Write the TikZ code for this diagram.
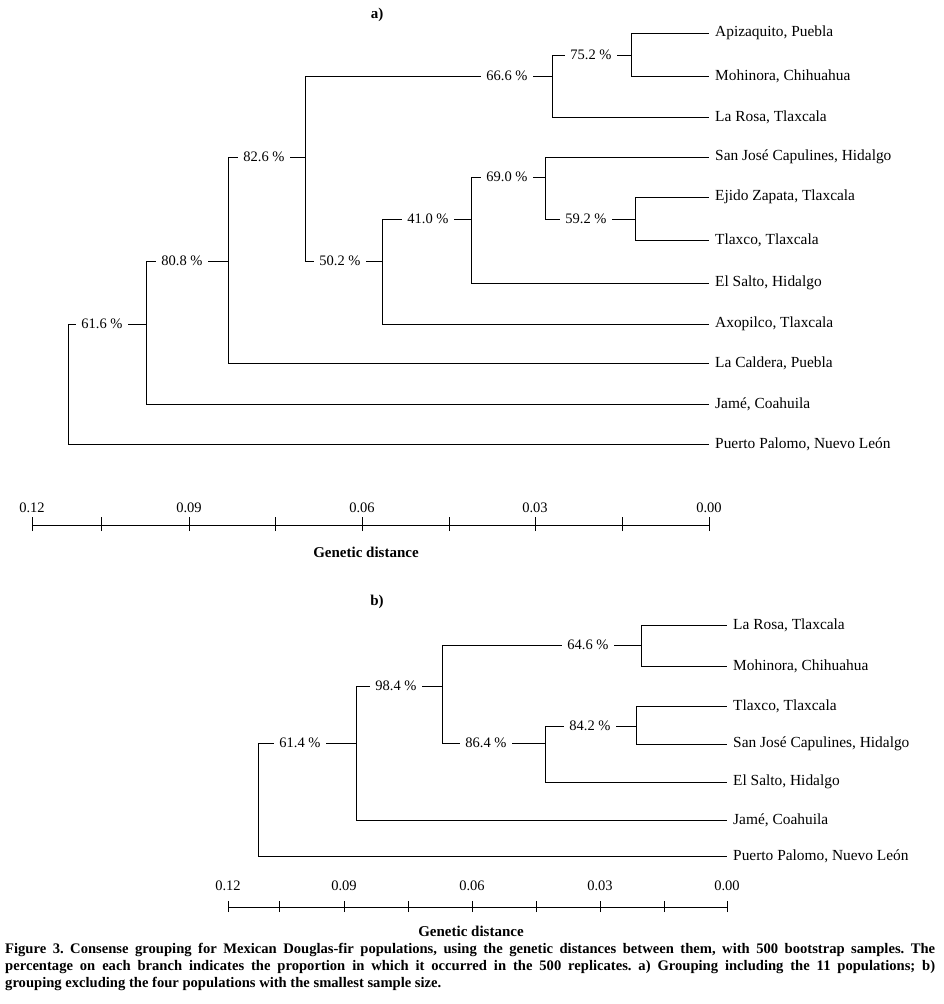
\documentclass[tikz,border=0pt]{standalone}
\usepackage{fontspec}
\setmainfont{Liberation Serif}
\usepackage{tikz}

\begin{document}
\begin{tikzpicture}[x=1pt, y=-1pt,
		edge_style/.style={draw=black, line width=1pt},
		leaf_style/.style={anchor=west, inner xsep=6pt, inner ysep=1pt, font=\fontsize{15.4}{18}\selectfont},
		pct_style/.style={fill=white, inner xsep=5pt, inner ysep=1pt, font=\fontsize{14.5}{17}\selectfont},
		scale_style/.style={font=\fontsize{14.5}{17}\selectfont, inner sep=0pt},
		title_style/.style={font=\bfseries\fontsize{15}{18}\selectfont, inner sep=0pt}]

		\useasboundingbox (0,0) rectangle (943,1004);

		% panel a
		\node[title_style] (ta) at (377,15) {a)};

		\coordinate (n1) at (68,324);
		\coordinate (n2) at (146,324);
		\coordinate (n3) at (228,261);
		\coordinate (n4) at (305,157);
		\coordinate (n5) at (552,76);
		\coordinate (n6) at (382,261);
		\coordinate (n7) at (631,55);
		\coordinate (n8) at (471,219);
		\coordinate (n9) at (545,177);
		\coordinate (n10) at (635,219);

		\node[leaf_style] (a1) at (709,33)  {Apizaquito, Puebla};
		\node[leaf_style] (a2) at (709,76)  {Mohinora, Chihuahua};
		\node[leaf_style] (a3) at (709,117) {La Rosa, Tlaxcala};
		\node[leaf_style] (a4) at (709,157) {San José Capulines, Hidalgo};
		\node[leaf_style] (a5) at (709,197) {Ejido Zapata, Tlaxcala};
		\node[leaf_style] (a6) at (709,240) {Tlaxco, Tlaxcala};
		\node[leaf_style] (a7) at (709,283) {El Salto, Hidalgo};
		\node[leaf_style] (a8) at (709,324) {Axopilco, Tlaxcala};
		\node[leaf_style] (a9) at (709,363) {La Caldera, Puebla};
		\node[leaf_style] (a10) at (709,404) {Jamé, Coahuila};
		\node[leaf_style] (a11) at (709,444) {Puerto Palomo, Nuevo León};

		\draw[edge_style] (n1) |- (n2);
		\draw[edge_style] (n1) |- (a11);
		\draw[edge_style] (n2) |- (n3);
		\draw[edge_style] (n2) |- (a10);
		\draw[edge_style] (n3) |- (n4);
		\draw[edge_style] (n3) |- (a9);
		\draw[edge_style] (n4) |- (n5);
		\draw[edge_style] (n4) |- (n6);
		\draw[edge_style] (n5) |- (n7);
		\draw[edge_style] (n5) |- (a3);
		\draw[edge_style] (n7) |- (a1);
		\draw[edge_style] (n7) |- (a2);
		\draw[edge_style] (n6) |- (n8);
		\draw[edge_style] (n6) |- (a8);
		\draw[edge_style] (n8) |- (n9);
		\draw[edge_style] (n8) |- (a7);
		\draw[edge_style] (n9) |- (a4);
		\draw[edge_style] (n9) |- (n10);
		\draw[edge_style] (n10) |- (a5);
		\draw[edge_style] (n10) |- (a6);

		\node[pct_style] (p1) at (102,324) {61.6 \%};
		\node[pct_style] (p2) at (182,261) {80.8 \%};
		\node[pct_style] (p3) at (264,157) {82.6 \%};
		\node[pct_style] (p4) at (507,76)  {66.6 \%};
		\node[pct_style] (p5) at (591,55)  {75.2 \%};
		\node[pct_style] (p6) at (340,261) {50.2 \%};
		\node[pct_style] (p7) at (428,219) {41.0 \%};
		\node[pct_style] (p8) at (507,177) {69.0 \%};
		\node[pct_style] (p9) at (586,219) {59.2 \%};

		% scale a
		\coordinate (sa1) at (32,525);
		\coordinate (sa2) at (101,525);
		\coordinate (sa3) at (189,525);
		\coordinate (sa4) at (275,525);
		\coordinate (sa5) at (362,525);
		\coordinate (sa6) at (449,525);
		\coordinate (sa7) at (535,525);
		\coordinate (sa8) at (622,525);
		\coordinate (sa9) at (709,525);
		\draw[edge_style] (sa1) -- (sa9);
		\draw[edge_style] ([yshift=-6pt]sa1) -- ([yshift=8pt]sa1);
		\draw[edge_style] ([yshift=-6pt]sa2) -- ([yshift=8pt]sa2);
		\draw[edge_style] ([yshift=-6pt]sa3) -- ([yshift=8pt]sa3);
		\draw[edge_style] ([yshift=-6pt]sa4) -- ([yshift=8pt]sa4);
		\draw[edge_style] ([yshift=-6pt]sa5) -- ([yshift=8pt]sa5);
		\draw[edge_style] ([yshift=-6pt]sa6) -- ([yshift=8pt]sa6);
		\draw[edge_style] ([yshift=-6pt]sa7) -- ([yshift=8pt]sa7);
		\draw[edge_style] ([yshift=-6pt]sa8) -- ([yshift=8pt]sa8);
		\draw[edge_style] ([yshift=-6pt]sa9) -- ([yshift=8pt]sa9);
		\node[scale_style] (la1) at (32,508)  {0.12};
		\node[scale_style] (la2) at (189,508) {0.09};
		\node[scale_style] (la3) at (362,508) {0.06};
		\node[scale_style] (la4) at (535,508) {0.03};
		\node[scale_style] (la5) at (709,508) {0.00};
		\node[title_style] (ga) at (366,552) {Genetic distance};

		% panel b
		\node[title_style] (tb) at (377,602) {b)};

		\coordinate (m1) at (258,743);
		\coordinate (m2) at (356,743);
		\coordinate (m3) at (442,686);
		\coordinate (m4) at (641,645);
		\coordinate (m5) at (545,743);
		\coordinate (m6) at (636,726);

		\node[leaf_style] (b1) at (727,625) {La Rosa, Tlaxcala};
		\node[leaf_style] (b2) at (727,666) {Mohinora, Chihuahua};
		\node[leaf_style] (b3) at (727,706) {Tlaxco, Tlaxcala};
		\node[leaf_style] (b4) at (727,744) {San José Capulines, Hidalgo};
		\node[leaf_style] (b5) at (727,782) {El Salto, Hidalgo};
		\node[leaf_style] (b6) at (727,820) {Jamé, Coahuila};
		\node[leaf_style] (b7) at (727,856) {Puerto Palomo, Nuevo León};

		\draw[edge_style] (m1) |- (m2);
		\draw[edge_style] (m1) |- (b7);
		\draw[edge_style] (m2) |- (m3);
		\draw[edge_style] (m2) |- (b6);
		\draw[edge_style] (m3) |- (m4);
		\draw[edge_style] (m3) |- (m5);
		\draw[edge_style] (m4) |- (b1);
		\draw[edge_style] (m4) |- (b2);
		\draw[edge_style] (m5) |- (m6);
		\draw[edge_style] (m5) |- (b5);
		\draw[edge_style] (m6) |- (b3);
		\draw[edge_style] (m6) |- (b4);

		\node[pct_style] (q1) at (300,743) {61.4 \%};
		\node[pct_style] (q2) at (396,686) {98.4 \%};
		\node[pct_style] (q3) at (588,645) {64.6 \%};
		\node[pct_style] (q4) at (486,743) {86.4 \%};
		\node[pct_style] (q5) at (590,726) {84.2 \%};

		% scale b
		\coordinate (sb1) at (228,907);
		\coordinate (sb2) at (279,907);
		\coordinate (sb3) at (344,907);
		\coordinate (sb4) at (408,907);
		\coordinate (sb5) at (472,907);
		\coordinate (sb6) at (536,907);
		\coordinate (sb7) at (600,907);
		\coordinate (sb8) at (664,907);
		\coordinate (sb9) at (727,907);
		\draw[edge_style] (sb1) -- (sb9);
		\draw[edge_style] ([yshift=-5pt]sb1) -- ([yshift=6pt]sb1);
		\draw[edge_style] ([yshift=-5pt]sb2) -- ([yshift=6pt]sb2);
		\draw[edge_style] ([yshift=-5pt]sb3) -- ([yshift=6pt]sb3);
		\draw[edge_style] ([yshift=-5pt]sb4) -- ([yshift=6pt]sb4);
		\draw[edge_style] ([yshift=-5pt]sb5) -- ([yshift=6pt]sb5);
		\draw[edge_style] ([yshift=-5pt]sb6) -- ([yshift=6pt]sb6);
		\draw[edge_style] ([yshift=-5pt]sb7) -- ([yshift=6pt]sb7);
		\draw[edge_style] ([yshift=-5pt]sb8) -- ([yshift=6pt]sb8);
		\draw[edge_style] ([yshift=-5pt]sb9) -- ([yshift=6pt]sb9);
		\node[scale_style] (lb1) at (228,886) {0.12};
		\node[scale_style] (lb2) at (344,886) {0.09};
		\node[scale_style] (lb3) at (472,886) {0.06};
		\node[scale_style] (lb4) at (600,886) {0.03};
		\node[scale_style] (lb5) at (727,886) {0.00};
		\node[title_style] (gb) at (471,931) {Genetic distance};

		% caption
		\node[anchor=north west, inner sep=0pt, text width=930pt, align=justify,
			font=\bfseries\fontsize{14.6}{17}\selectfont\frenchspacing] (cap) at (5,943)
			{Figure 3. Consense grouping for Mexican Douglas-fir populations, using the genetic distances between them, with 500 bootstrap samples. The\linebreak
			percentage on each branch indicates the proportion in which it occurred in the 500 replicates. a) Grouping including the 11 populations; b)\linebreak
			grouping excluding the four populations with the smallest sample size.};
\end{tikzpicture}
\end{document}
